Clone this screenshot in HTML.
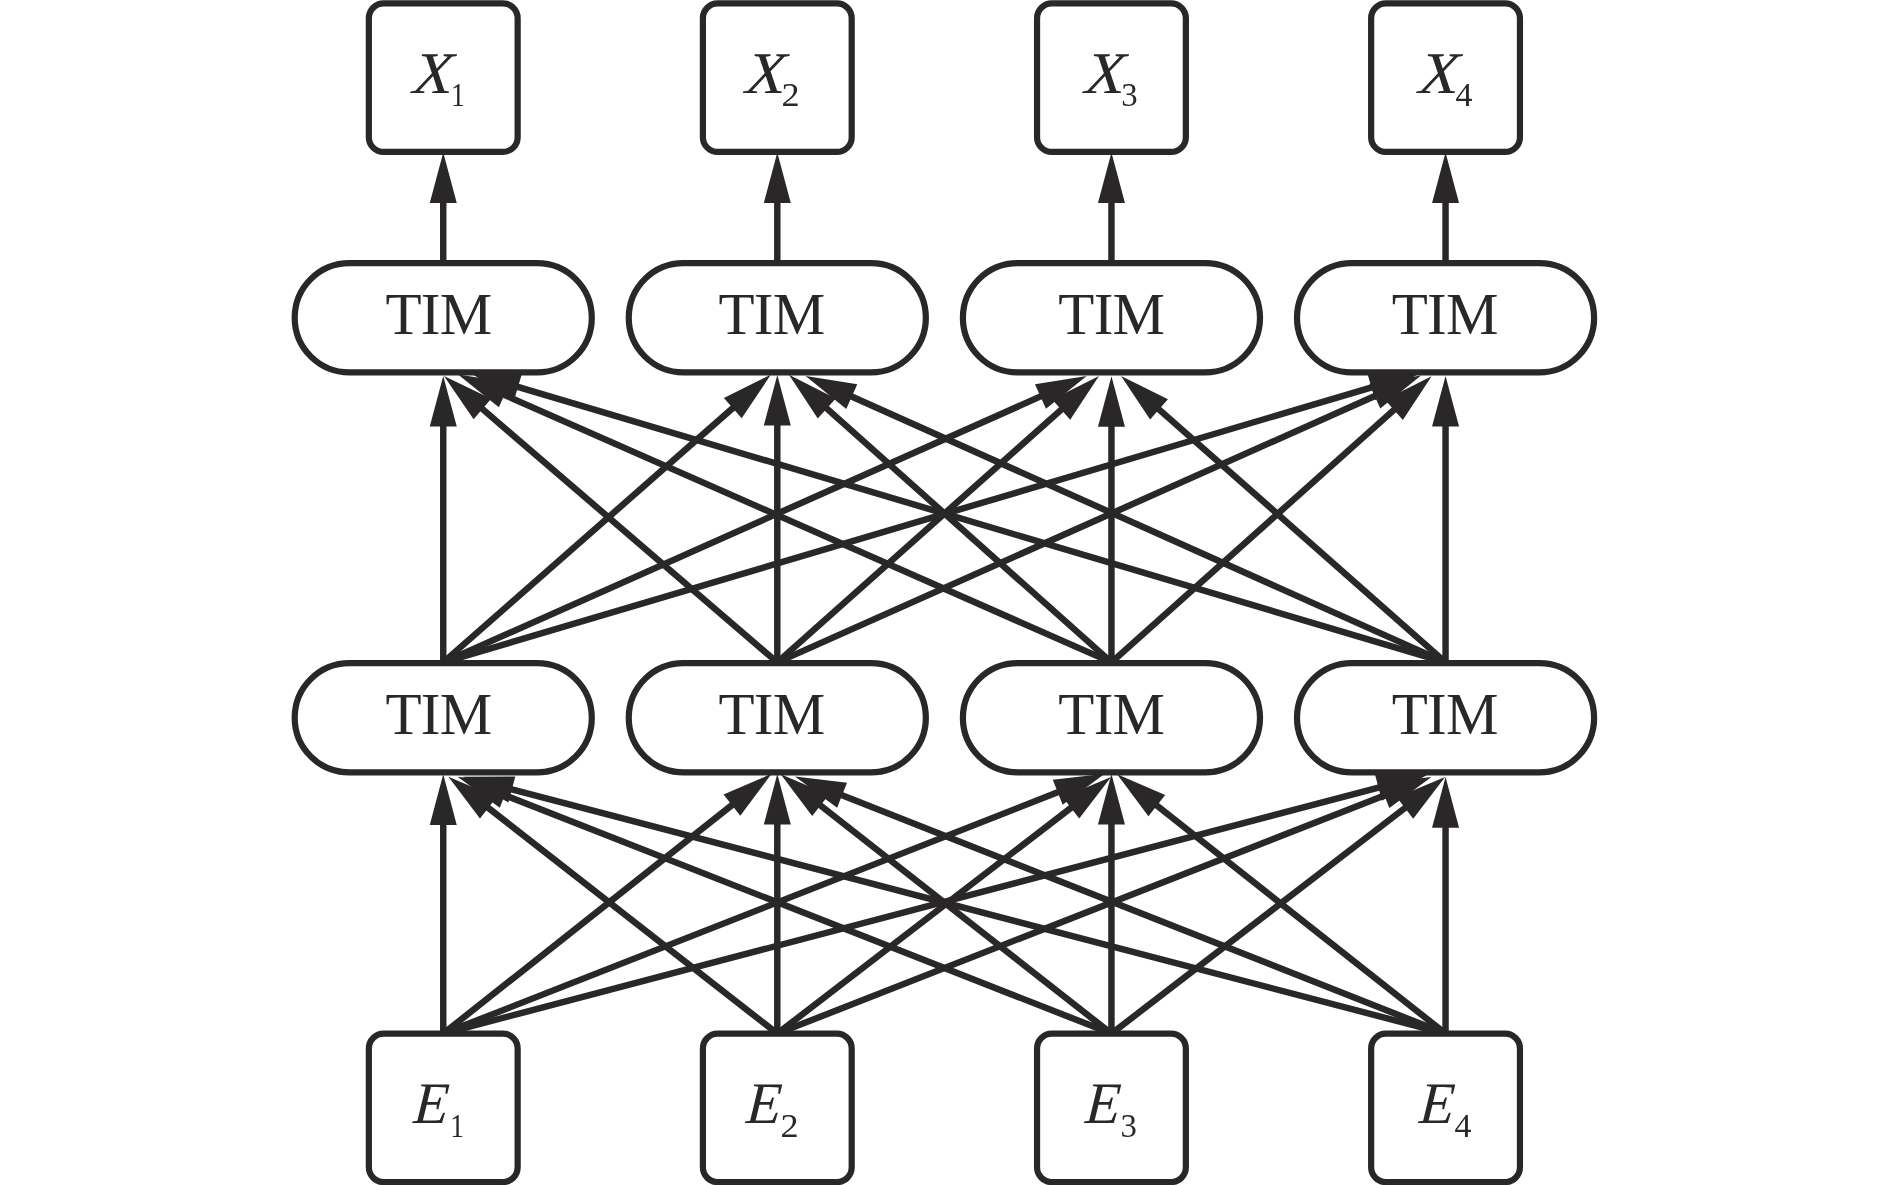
<!DOCTYPE html>
<html lang="en">
<head>
<meta charset="utf-8">
<title>TIM network</title>
<style>
html,body{margin:0;padding:0;background:#fff;}
body{width:1890px;height:1185px;overflow:hidden;}
svg{display:block;}
text{font-family:"Liberation Serif",serif;fill:#292728;}
.it{font-style:italic;}
</style>
</head>
<body>
<svg width="1890" height="1185" viewBox="0 0 1890 1185" style="will-change:transform">
<g stroke="#292728" stroke-width="6.45" fill="none">
<line x1="443.25" y1="263.1" x2="443.25" y2="201"/>
<line x1="777.3" y1="263.1" x2="777.3" y2="201"/>
<line x1="1111.45" y1="263.1" x2="1111.45" y2="201"/>
<line x1="1445.55" y1="263.1" x2="1445.55" y2="201"/>
<line x1="1445.55" y1="662.4" x2="516.09" y2="386.34"/>
<line x1="1111.45" y1="662.4" x2="502.47" y2="394.09"/>
<line x1="777.3" y1="662.4" x2="480.86" y2="407.67"/>
<line x1="443.25" y1="665.4" x2="443.25" y2="424.6"/>
<line x1="1445.55" y1="662.4" x2="849.96" y2="395.76"/>
<line x1="443.25" y1="662.4" x2="734.29" y2="406.77"/>
<line x1="1111.45" y1="662.4" x2="825.27" y2="407.15"/>
<line x1="777.3" y1="665.4" x2="777.3" y2="423.5"/>
<line x1="443.25" y1="662.4" x2="1042.3" y2="395.67"/>
<line x1="777.3" y1="662.4" x2="1062.7" y2="408.32"/>
<line x1="1445.55" y1="662.4" x2="1157.53" y2="408.07"/>
<line x1="1111.45" y1="665.4" x2="1111.45" y2="424.8"/>
<line x1="443.25" y1="662.4" x2="1373.4" y2="386.81"/>
<line x1="777.3" y1="662.4" x2="1376.61" y2="395.29"/>
<line x1="1111.45" y1="662.4" x2="1395.37" y2="408.59"/>
<line x1="1445.55" y1="665.4" x2="1445.55" y2="424.6"/>
<line x1="1445.55" y1="1033.6" x2="509.92" y2="788.99"/>
<line x1="1111.45" y1="1033.6" x2="502.83" y2="794.47"/>
<line x1="777.3" y1="1033.6" x2="486.7" y2="806.62"/>
<line x1="443.25" y1="1036.8" x2="443.25" y2="822.9"/>
<line x1="1445.55" y1="1033.6" x2="840.2" y2="794.46"/>
<line x1="443.25" y1="1033.6" x2="733.49" y2="803.86"/>
<line x1="1111.45" y1="1033.6" x2="818.94" y2="804.19"/>
<line x1="777.3" y1="1036.8" x2="777.3" y2="822.5"/>
<line x1="443.25" y1="1033.6" x2="1059.56" y2="791.57"/>
<line x1="777.3" y1="1033.6" x2="1072.57" y2="806.62"/>
<line x1="1445.55" y1="1033.6" x2="1155.24" y2="804.32"/>
<line x1="1111.45" y1="1036.8" x2="1111.45" y2="822.5"/>
<line x1="443.25" y1="1033.6" x2="1380.4" y2="787.06"/>
<line x1="777.3" y1="1033.6" x2="1386.26" y2="794.75"/>
<line x1="1111.45" y1="1033.6" x2="1406.57" y2="806.72"/>
<line x1="1445.55" y1="1036.8" x2="1445.55" y2="825.7"/>
</g>
<g fill="#292728" stroke="none">
<polygon points="443.25,152.4 456.75,203 429.75,203"/>
<polygon points="777.3,152.4 790.8,203 763.8,203"/>
<polygon points="1111.45,152.4 1124.95,203 1097.95,203"/>
<polygon points="1445.55,152.4 1459.05,203 1432.05,203"/>
<polygon points="469.5,372.5 521.85,373.97 514.16,399.85"/>
<polygon points="458,374.5 509.75,382.55 498.86,407.26"/>
<polygon points="444,376 491.18,398.74 473.58,419.22"/>
<polygon points="443.25,376 456.75,426.6 429.75,426.6"/>
<polygon points="805.6,375.9 857.3,384.25 846.27,408.9"/>
<polygon points="770.8,374.7 741.69,418.24 723.87,397.95"/>
<polygon points="789,374.8 835.75,398.41 817.78,418.56"/>
<polygon points="777.3,374.9 790.8,425.5 763.8,425.5"/>
<polygon points="1086.7,375.9 1045.97,408.81 1034.98,384.15"/>
<polygon points="1099,376 1070.18,419.73 1052.23,399.56"/>
<polygon points="1121.1,375.9 1167.96,399.27 1150.09,419.51"/>
<polygon points="1111.45,376.2 1124.95,426.8 1097.95,426.8"/>
<polygon points="1420,373 1375.32,400.32 1367.65,374.43"/>
<polygon points="1421,375.5 1380.28,408.43 1369.29,383.77"/>
<polygon points="1431.6,376.2 1402.87,419.99 1384.88,399.86"/>
<polygon points="1445.55,376 1459.05,426.6 1432.05,426.6"/>
<polygon points="462.9,776.7 515.27,776.44 508.44,802.56"/>
<polygon points="457.6,776.7 509.63,782.64 499.76,807.77"/>
<polygon points="448.4,776.7 496.59,797.21 479.97,818.49"/>
<polygon points="443.25,774.3 456.75,824.9 429.75,824.9"/>
<polygon points="795,776.6 847.02,782.64 837.1,807.75"/>
<polygon points="771.6,773.7 740.3,815.69 723.55,794.52"/>
<polygon points="780.7,774.2 828.85,794.8 812.18,816.05"/>
<polygon points="777.3,773.9 790.8,824.5 763.8,824.5"/>
<polygon points="1104.8,773.8 1062.64,804.86 1052.77,779.73"/>
<polygon points="1111.1,777 1079.21,818.54 1062.76,797.14"/>
<polygon points="1117.1,774.2 1165.18,794.97 1148.44,816.16"/>
<polygon points="1111.45,773.9 1124.95,824.5 1097.95,824.5"/>
<polygon points="1427.4,774.7 1381.9,800.63 1375.03,774.52"/>
<polygon points="1431.5,777 1389.32,808.04 1379.46,782.91"/>
<polygon points="1445.1,777.1 1413.21,818.64 1396.76,797.24"/>
<polygon points="1445.55,777.1 1459.05,827.7 1432.05,827.7"/>
</g>
<g stroke="#292728" stroke-width="6.2" fill="#fff">
<rect x="368.85" y="3.45" width="148.8" height="148.5" rx="14.8" ry="14.8"/>
<rect x="368.85" y="1033.6" width="148.8" height="148.5" rx="14.8" ry="14.8"/>
<rect x="294.7" y="263.1" width="297.1" height="109.3" rx="54.65" ry="54.65"/>
<rect x="294.7" y="663.1" width="297.1" height="109.3" rx="54.65" ry="54.65"/>
<rect x="702.9" y="3.45" width="148.8" height="148.5" rx="14.8" ry="14.8"/>
<rect x="702.9" y="1033.6" width="148.8" height="148.5" rx="14.8" ry="14.8"/>
<rect x="628.75" y="263.1" width="297.1" height="109.3" rx="54.65" ry="54.65"/>
<rect x="628.75" y="663.1" width="297.1" height="109.3" rx="54.65" ry="54.65"/>
<rect x="1037.05" y="3.45" width="148.8" height="148.5" rx="14.8" ry="14.8"/>
<rect x="1037.05" y="1033.6" width="148.8" height="148.5" rx="14.8" ry="14.8"/>
<rect x="962.9" y="263.1" width="297.1" height="109.3" rx="54.65" ry="54.65"/>
<rect x="962.9" y="663.1" width="297.1" height="109.3" rx="54.65" ry="54.65"/>
<rect x="1371.15" y="3.45" width="148.8" height="148.5" rx="14.8" ry="14.8"/>
<rect x="1371.15" y="1033.6" width="148.8" height="148.5" rx="14.8" ry="14.8"/>
<rect x="1297" y="263.1" width="297.1" height="109.3" rx="54.65" ry="54.65"/>
<rect x="1297" y="663.1" width="297.1" height="109.3" rx="54.65" ry="54.65"/>
</g>
<text x="385.43" y="334" font-size="59" letter-spacing="-0.72">TIM</text>
<text x="385.43" y="734" font-size="59" letter-spacing="-0.72">TIM</text>
<text transform="translate(412.19,92.9) skewX(-3.5) scale(1.12,1)" font-size="59" class="it">X</text>
<text transform="translate(451.12,105.9) scale(0.8,1)" font-size="34.5">1</text>
<text transform="translate(412.67,1122.8) skewX(-4) scale(0.97,1)" font-size="59" class="it">E</text>
<text transform="translate(450.22,1136.8) scale(0.8,1)" font-size="34.5">1</text>
<text x="718.53" y="334" font-size="59" letter-spacing="-0.72">TIM</text>
<text x="718.53" y="734" font-size="59" letter-spacing="-0.72">TIM</text>
<text transform="translate(745.09,92.9) skewX(-3.5) scale(1.12,1)" font-size="59" class="it">X</text>
<text transform="translate(781.4,105.9) scale(1.05,1)" font-size="34.5">2</text>
<text transform="translate(745.47,1122.8) skewX(-4) scale(0.97,1)" font-size="59" class="it">E</text>
<text transform="translate(780.4,1136.8) scale(1.05,1)" font-size="34.5">2</text>
<text x="1058.33" y="334" font-size="59" letter-spacing="-0.72">TIM</text>
<text x="1058.33" y="734" font-size="59" letter-spacing="-0.72">TIM</text>
<text transform="translate(1084.19,92.9) skewX(-3.5) scale(1.12,1)" font-size="59" class="it">X</text>
<text transform="translate(1121.26,105.9) scale(0.95,1)" font-size="34.5">3</text>
<text transform="translate(1084.57,1122.8) skewX(-4) scale(0.97,1)" font-size="59" class="it">E</text>
<text transform="translate(1120.51,1136.8) scale(0.95,1)" font-size="34.5">3</text>
<text x="1391.73" y="334" font-size="59" letter-spacing="-0.72">TIM</text>
<text x="1391.73" y="734" font-size="59" letter-spacing="-0.72">TIM</text>
<text transform="translate(1418.19,92.9) skewX(-3.5) scale(1.12,1)" font-size="59" class="it">X</text>
<text transform="translate(1455.54,105.9) scale(0.98,1)" font-size="34.5">4</text>
<text transform="translate(1418.57,1122.8) skewX(-4) scale(0.97,1)" font-size="59" class="it">E</text>
<text transform="translate(1454.54,1136.8) scale(0.98,1)" font-size="34.5">4</text>
</svg>
</body>
</html>
